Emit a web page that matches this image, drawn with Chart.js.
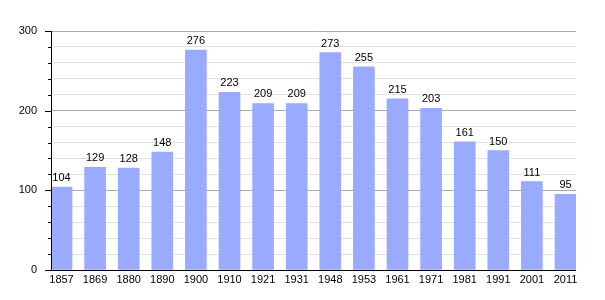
<!DOCTYPE html>
<html>
<head>
<meta charset="utf-8">
<script src="https://cdn.jsdelivr.net/npm/chart.js@4"></script>
<style>
  html, body { margin: 0; padding: 0; background: #fff; }
  #wrap { width: 605px; height: 300px; }
</style>
</head>
<body>
<div id="wrap"><canvas id="chart" width="605" height="300"></canvas></div>
<script>
const years = ["1857", "1869", "1880", "1890", "1900", "1910", "1921", "1931",
               "1948", "1953", "1961", "1971", "1981", "1991", "2001", "2011"];
const population = [104, 129, 128, 148, 276, 223, 209, 209, 273, 255, 215, 203, 161, 150, 111, 95];
const yTicks = [0, 100, 200, 300];

const barColor = '#99aaff';
const halfBar = 0.3125;

// value labels above bars + axis lines and tick marks
const extras = {
  id: 'extras',
  afterDatasetsDraw(chart) {
    const ctx = chart.ctx;
    const meta = chart.getDatasetMeta(0);
    ctx.save();
    ctx.font = '11px "Liberation Sans", Arial, sans-serif';
    ctx.fillStyle = '#000';
    ctx.textAlign = 'center';
    ctx.textBaseline = 'alphabetic';
    meta.data.forEach((bar, i) => {
      ctx.fillText(String(population[i]), bar.x, bar.y - 6);
    });

    const area = chart.chartArea;
    const y = chart.scales.y;
    ctx.strokeStyle = '#000';
    ctx.lineWidth = 1;
    ctx.beginPath();
    ctx.moveTo(area.left + 0.5, area.top);
    ctx.lineTo(area.left + 0.5, area.bottom + 0.5);
    ctx.lineTo(area.right, area.bottom + 0.5);
    for (let v = 0; v <= 300; v += 20) {
      const py = Math.round(y.getPixelForValue(v)) + 0.5;
      const len = v % 100 === 0 ? 6 : 3;
      ctx.moveTo(area.left - len, py);
      ctx.lineTo(area.left, py);
    }
    ctx.stroke();
    ctx.restore();
  }
};

new Chart(document.getElementById('chart'), {
  type: 'bar',
  data: {
    datasets: [{
      label: 'Population',
      data: population.map((v, i) => ({ x: i, y: v })),
      backgroundColor: barColor,
      borderWidth: 0,
      barThickness: 21
    }]
  },
  options: {
    responsive: false,
    animation: false,
    layout: { padding: { top: 31, right: 29, left: 0, bottom: 0 } },
    plugins: { legend: { display: false }, tooltip: { enabled: false } },
    scales: {
      x: {
        type: 'linear',
        min: -halfBar,
        max: years.length - 1 + halfBar,
        offset: false,
        afterBuildTicks(scale) {
          scale.ticks = years.map((y, i) => ({ value: i }));
        },
        afterFit(scale) { scale.height = 30; },
        ticks: {
          autoSkip: false,
          maxRotation: 0,
          padding: 3,
          color: '#000',
          font: { family: '"Liberation Sans", Arial, sans-serif', size: 11 },
          callback: (v) => years[v]
        },
        grid: { display: false, drawTicks: false },
        border: { display: false }
      },
      y: {
        min: 0,
        max: 300,
        afterBuildTicks(scale) {
          const t = [];
          for (let v = 0; v <= 300; v += 20) t.push({ value: v });
          scale.ticks = t;
        },
        afterFit(scale) { scale.width = 51; },
        ticks: {
          autoSkip: false,
          padding: 14,
          color: '#000',
          font: { family: '"Liberation Sans", Arial, sans-serif', size: 11 },
          callback: (v) => yTicks.includes(v) ? String(v) : ''
        },
        grid: {
          drawTicks: false,
          color: (c) => c.tick && c.tick.value % 100 === 0 ? '#aaaaaa' : '#e2e2e2',
          lineWidth: 1
        },
        border: { display: false }
      }
    }
  },
  plugins: [extras]
});
</script>
</body>
</html>
